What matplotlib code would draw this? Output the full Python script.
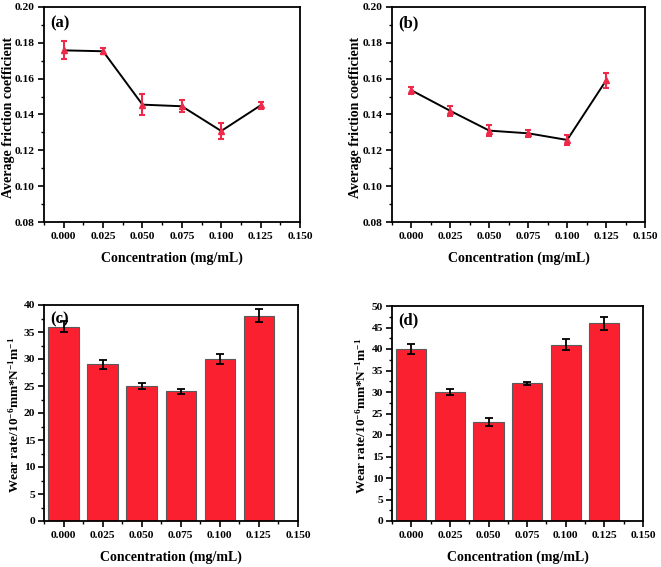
import numpy as np
import matplotlib
matplotlib.use("Agg")
import matplotlib.pyplot as plt
from matplotlib.ticker import MultipleLocator, FormatStrFormatter

plt.rcParams['font.family'] = ['Liberation Serif', 'DejaVu Serif']
plt.rcParams['font.weight'] = 'bold'
plt.rcParams['axes.labelweight'] = 'bold'
plt.rcParams['mathtext.fontset'] = 'custom'
plt.rcParams['mathtext.rm'] = 'Liberation Serif:bold'
plt.rcParams['mathtext.bf'] = 'Liberation Serif:bold'
plt.rcParams['mathtext.it'] = 'Liberation Serif:bold'
plt.rcParams['mathtext.default'] = 'rm'

# data
conc = [0.000, 0.025, 0.050, 0.075, 0.100, 0.125]

friction_a = [0.1758, 0.1753, 0.1455, 0.1446, 0.1308, 0.1451]
friction_a_err = [0.0050, 0.0016, 0.0060, 0.0033, 0.0043, 0.0020]

friction_b = [0.1535, 0.1420, 0.1310, 0.1295, 0.1258, 0.1590]
friction_b_err = [0.0020, 0.0028, 0.0030, 0.0020, 0.0028, 0.0040]

wear_c = [36, 29, 25, 24, 30, 38]
wear_c_err = [1.0, 0.8, 0.6, 0.5, 1.0, 1.2]

wear_d = [40, 30, 23, 32, 41, 46]
wear_d_err = [1.1, 0.6, 1.0, 0.4, 1.3, 1.5]

x_ticks = [0.000, 0.025, 0.050, 0.075, 0.100, 0.125, 0.150]

W, H = 661, 567
fig = plt.figure(figsize=(W / 100, H / 100), dpi=100)


def px_axes(left, top, right, bottom):
    return fig.add_axes([left / W, 1 - bottom / H, (right - left) / W, (bottom - top) / H])


def style(ax):
    for s in ax.spines.values():
        s.set_linewidth(1.3)
    ax.tick_params(which='major', direction='out', length=4, width=1.2, labelsize=8.2)
    ax.tick_params(axis='y', which='major', pad=2.5)
    ax.tick_params(which='minor', direction='out', length=2.2, width=1.0)
    ax.set_xlim(-0.0125, 0.150)
    ax.set_xticks(x_ticks)
    ax.xaxis.set_minor_locator(MultipleLocator(0.0125))
    ax.xaxis.set_major_formatter(FormatStrFormatter('%.3f'))
    ax.set_xlabel('Concentration (mg/mL)', fontsize=10, va='center')
    ax.xaxis.set_label_coords(0.5, -0.167)


def friction_panel(ax, y, yerr, tag, ylab_x):
    ax.plot(conc, y, color='black', lw=1.4, zorder=2)
    ax.errorbar(conc, y, yerr=yerr, fmt='^', color='#ee2a4a', ms=4.5,
                ecolor='#ee2a4a', elinewidth=1.5, capsize=2.3, capthick=1.5, zorder=3)
    style(ax)
    ax.set_ylim(0.08, 0.20)
    ax.yaxis.set_major_locator(MultipleLocator(0.02))
    ax.yaxis.set_minor_locator(MultipleLocator(0.01))
    ax.yaxis.set_major_formatter(FormatStrFormatter('%.2f'))
    ax.set_ylabel('Average friction coefficient', fontsize=10, va='center')
    ax.yaxis.set_label_coords(ylab_x, 0.486)
    ax.text(0.025, 0.96, tag, transform=ax.transAxes, fontsize=12,
            fontweight='bold', va='top', ha='left')


def wear_panel(ax, y, yerr, top, tag, ylab_x):
    ax.bar(conc, y, width=0.0195, color='#fb2030', edgecolor='#5a5a5a',
           linewidth=0.8, zorder=2)
    ax.errorbar(conc, y, yerr=yerr, fmt='none', ecolor='black',
                elinewidth=1.3, capsize=2.8, capthick=1.3, zorder=3)
    style(ax)
    ax.set_ylim(0, top)
    ax.yaxis.set_major_locator(MultipleLocator(5))
    ax.yaxis.set_minor_locator(MultipleLocator(2.5))
    ax.set_ylabel(r'Wear rate/10$^{-6}$mm*N$^{-1}$m$^{-1}$', fontsize=9.5, va='center')
    ax.yaxis.set_label_coords(ylab_x, 0.49)
    ax.text(0.025, 0.97, tag, transform=ax.transAxes, fontsize=12,
            fontweight='bold', va='top', ha='left')


ax_a = px_axes(44, 7, 300, 222)
ax_b = px_axes(392, 7, 645, 222)
ax_c = px_axes(44, 305, 298, 521)
ax_d = px_axes(392, 306, 643, 521)

friction_panel(ax_a, friction_a, friction_a_err, '(a)', -0.14)
friction_panel(ax_b, friction_b, friction_b_err, '(b)', -0.145)
wear_panel(ax_c, wear_c, wear_c_err, 40, '(c)', -0.118)
wear_panel(ax_d, wear_d, wear_d_err, 50, '(d)', -0.122)

fig.savefig('out.png', dpi=100)
